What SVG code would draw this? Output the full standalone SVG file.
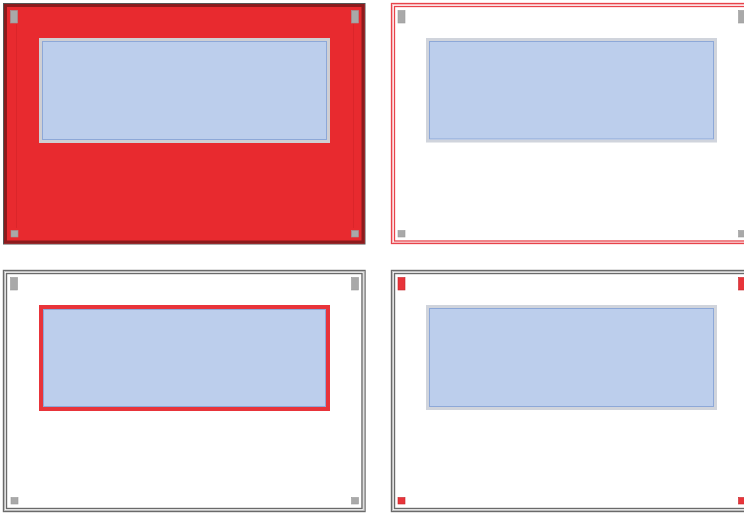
<svg xmlns="http://www.w3.org/2000/svg" width="744" height="515" viewBox="0 0 744 515">
<style>
.inner{fill:#BCCEEC;stroke:#8DA8D8;stroke-width:1}
.frameG{fill:none;stroke:#D0D4DC;stroke-width:3}
.frameR{fill:none;stroke:#E8343A;stroke-width:4}
.frameW{fill:none;stroke:#CFCFD3;stroke-width:3}
.hg{fill:#A9A9A9;stroke:#9A9A9A;stroke-width:0.6}
.hr{fill:#E8343A;stroke:#C4252A;stroke-width:0.6}
.gline{fill:none;stroke:#6A6A6A;stroke-width:1.4}
.rline{fill:none;stroke:#E8434A;stroke-width:1.3}
</style>
<rect width="744" height="515" fill="#FFFFFF"/>

<g id="panel1">
  <rect x="4" y="3.5" width="361" height="240.5" fill="#E82A2F"/>
  <rect x="3.5" y="3.5" width="361.5" height="240.5" fill="none" stroke="#555555" stroke-width="1"/>
  <rect x="5.5" y="5.5" width="357.5" height="236.5" fill="none" stroke="#8C1B1D" stroke-width="3"/>
  <line x1="16.5" y1="24" x2="16.5" y2="228" stroke="#DB252A" stroke-width="1"/>
  <line x1="353.5" y1="24" x2="353.5" y2="228" stroke="#DB252A" stroke-width="1"/>
  <rect class="frameW" x="40.5" y="39.5" width="288" height="102"/>
  <rect class="inner" x="42.5" y="41.5" width="284" height="98"/>
  <rect class="hg" x="10.5" y="10.5" width="7" height="12.5"/>
  <rect class="hg" x="351.5" y="10.5" width="7" height="12.5"/>
  <rect class="hg" x="11" y="230.5" width="7" height="6.5"/>
  <rect class="hg" x="351.5" y="230.5" width="7" height="6.5"/>
</g>

<g id="panel2">
  <rect x="391.5" y="3.5" width="361" height="240" fill="#FFFFFF" stroke="#E8434A" stroke-width="1.3"/>
  <rect x="392.5" y="4.5" width="359" height="238" fill="none" stroke="#F6B9BC" stroke-width="1"/>
  <rect class="rline" x="394.5" y="6.5" width="355" height="234.5"/>
  <rect class="frameG" x="427.5" y="39.5" width="288" height="101.5"/>
  <rect class="inner" x="429.5" y="41.5" width="284" height="97.5"/>
  <rect class="hg" x="398" y="10.5" width="7" height="12.5"/>
  <rect class="hg" x="738.5" y="10.5" width="7" height="12.5"/>
  <rect class="hg" x="398" y="230.5" width="7" height="6.5"/>
  <rect class="hg" x="738.5" y="230.5" width="7" height="6.5"/>
</g>

<g id="panel3">
  <rect x="3.5" y="270.5" width="361.5" height="241" fill="#FFFFFF" stroke="#6A6A6A" stroke-width="1.4"/>
  <rect x="4.5" y="271.5" width="359.5" height="239" fill="none" stroke="#BDBDBD" stroke-width="1"/>
  <rect class="gline" x="6.5" y="273.5" width="355.5" height="235"/>
  <rect class="frameR" x="41" y="307" width="287" height="102"/>
  <rect class="inner" x="43.5" y="309.5" width="282" height="97"/>
  <rect class="hg" x="10.5" y="277.5" width="7" height="12.5"/>
  <rect class="hg" x="351.5" y="277.5" width="7" height="12.5"/>
  <rect class="hg" x="11" y="497.5" width="7" height="6.5"/>
  <rect class="hg" x="351.5" y="497.5" width="7" height="6.5"/>
</g>

<g id="panel4">
  <rect x="391.5" y="270.5" width="361" height="241" fill="#FFFFFF" stroke="#6A6A6A" stroke-width="1.4"/>
  <rect x="392.5" y="271.5" width="359" height="239" fill="none" stroke="#BDBDBD" stroke-width="1"/>
  <rect class="gline" x="394.5" y="273.5" width="355" height="235"/>
  <rect class="frameG" x="427.5" y="306.5" width="288" height="102"/>
  <rect class="inner" x="429.5" y="308.5" width="284" height="98"/>
  <rect class="hr" x="398" y="277.5" width="7" height="12.5"/>
  <rect class="hr" x="738.5" y="277.5" width="7" height="12.5"/>
  <rect class="hr" x="398" y="497.5" width="7" height="6.5"/>
  <rect class="hr" x="738.5" y="497.5" width="7" height="6.5"/>
</g>

<g id="connectors"></g>
</svg>
